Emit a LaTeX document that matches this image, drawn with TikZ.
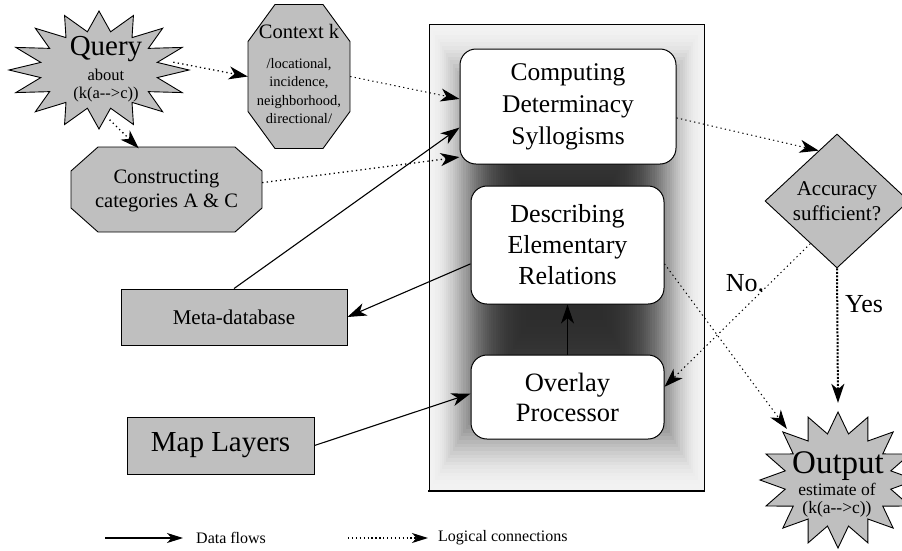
\documentclass[tikz,border=0pt]{standalone}
\usepackage{fontspec}
\setmainfont{Liberation Serif}
\usetikzlibrary{arrows.meta,shapes.geometric,calc}

\definecolor{graynode}{gray}{0.75}
\newcommand\fsz[2]{\fontsize{#1}{#2}\selectfont}

% spiky star: centre x, centre y, radius x, radius y, inner ratio, number of points
\newcommand\spikystar[6]{%
  \filldraw[grayshape] plot[samples=#6*2+1, domain=0:#6*2, variable=\k]
    ({#1+(mod(round(\k),2)==0 ? 1 : #5)*#3*cos(\k*180/#6)},
     {#2+(mod(round(\k),2)==0 ? 1 : #5)*#4*sin(\k*180/#6)}) -- cycle;}

% octagon with cut corners: centre x, centre y, half width, half height, cut x, cut y
\newcommand\cutoctagon[6]{%
  \filldraw[grayshape] ({#1-#3},{#2-#4+#6}) -- ({#1-#3+#5},{#2-#4}) -- ({#1+#3-#5},{#2-#4})
    -- ({#1+#3},{#2-#4+#6}) -- ({#1+#3},{#2+#4-#6}) -- ({#1+#3-#5},{#2+#4})
    -- ({#1-#3+#5},{#2+#4}) -- ({#1-#3},{#2+#4-#6}) -- cycle;}

\begin{document}
\begin{tikzpicture}[x=1pt,y=-1pt,
  grayshape/.style={draw=black, line width=0.9pt, fill=graynode},
  anchorbox/.style={draw=none, inner sep=0pt},
  procbox/.style={draw=black, line width=1pt, fill=white, rounded corners=16pt,
     align=center, inner sep=0pt, font=\fsz{26}{31}},
  rectbox/.style={grayshape, inner sep=0pt},
  bighead/.style={-{Stealth[length=19pt,width=13pt,inset=5.5pt]}},
  datafl/.style={line width=1.1pt, bighead},
  logic/.style={line width=1.3pt, dash pattern=on 1.3pt off 3.2pt, bighead},
  logicthin/.style={logic, line width=1pt},
  legendfl/.style={line width=1.1pt, -{Stealth[length=16pt,width=10pt,inset=4.5pt]}},
  legendlg/.style={line width=1.3pt, dash pattern=on 1.3pt off 2.6pt,
     -{Stealth[length=16pt,width=10pt,inset=4.5pt]}},
  lbl/.style={inner sep=0pt},
]
\useasboundingbox (0,0) rectangle (902,550);

% ---- shaded processing panel ----
\foreach \i in {0,...,63}{
  \pgfmathsetmacro\t{\i/64}
  \pgfmathsetmacro\bk{5+78*(1-exp(0-(\t/0.34)*(\t/0.34)))}
  \fill[black!\bk!white] ({429+137.5*\t},{24+233.5*\t}) rectangle ({704-137.5*\t},{491-233.5*\t});
}
\draw[line width=1pt] (429,24) -- (704,24) -- (704,491);
\draw[line width=1pt] (429,24) -- (429,491);
\draw[line width=1.6pt] (428.2,491) -- (704.8,491);

% ---- processing steps ----
\node[procbox, minimum width=216pt, minimum height=115pt, font=\fsz{25.5}{32}] (comp) at (568,106.5)
  {Computing\\Determinacy\\Syllogisms};
\node[procbox, minimum width=193pt, minimum height=118pt] (desc) at (567.5,245)
  {Describing\\Elementary\\Relations};
\node[procbox, minimum width=193pt, minimum height=84pt, font=\fsz{26.5}{30}] (ovl) at (567.5,397)
  {Overlay\\Processor};

% ---- query star ----
\spikystar{99}{70}{90}{59}{0.66}{16}
\node[anchorbox, ellipse, minimum width=150pt, minimum height=100pt] (q) at (99,70) {};
\node[lbl, anchor=base, font=\fsz{29}{29}] (qt1) at (106,55) {Query};
\node[lbl, anchor=base, font=\fsz{16.5}{16.5}] (qt2) at (106,80) {about};
\node[lbl, anchor=base, font=\fsz{16.5}{16.5}] (qt3) at (106,98) {(k(a-{}->c))};

% ---- context octagon ----
\cutoctagon{299}{76.5}{51}{72}{27}{37}
\node[anchorbox, minimum width=102pt, minimum height=144pt] (ctx) at (299,76.5) {};
\node[lbl, anchor=base, font=\fsz{20.5}{20.5}] (ct1) at (299,38) {Context k};
\node[lbl, anchor=base, font=\fsz{14.5}{14.5}] (ct2) at (299,68) {/locational,};
\node[lbl, anchor=base, font=\fsz{14.5}{14.5}] (ct3) at (299,86.5) {incidence,};
\node[lbl, anchor=base, font=\fsz{14.5}{14.5}] (ct4) at (299,105) {neighborhood,};
\node[lbl, anchor=base, font=\fsz{14.5}{14.5}] (ct5) at (299,123.5) {directional/};

% ---- categories octagon ----
\cutoctagon{166.5}{189.5}{95.5}{42.5}{27}{24}
\node[anchorbox, minimum width=191pt, minimum height=85pt, align=center, font=\fsz{20.5}{24}] (cc)
  at (166.5,191) {Constructing\\categories A \& C};

% ---- data sources ----
\node[rectbox, minimum width=226pt, minimum height=56pt, font=\fsz{21}{21}] (meta) at (234,317) {Meta-database};
\node[rectbox, minimum width=187pt, minimum height=57pt, font=\fsz{29}{29}] (map) at (220.5,445.5) {Map Layers};

% ---- decision ----
\node[diamond, grayshape, minimum width=144pt, minimum height=134pt, inner sep=0pt,
  align=center, font=\fsz{21}{25}] (dia) at (837,201) {Accuracy\\sufficient?};

% ---- output star ----
\spikystar{838}{480}{78}{68}{0.69}{16}
\node[anchorbox, ellipse, minimum width=136pt, minimum height=154pt] (out) at (838,480) {};
\node[lbl, anchor=base, font=\fsz{33}{33}] (ot1) at (838,473) {Output};
\node[lbl, anchor=base, font=\fsz{17.5}{17.5}] (ot2) at (837,495) {estimate of};
\node[lbl, anchor=base, font=\fsz{17.5}{17.5}] (ot3) at (837,513) {(k(a-{}->c))};

% ---- logical connections ----
\draw[logic] (q.6) -- (ctx.west);
\draw[logic] (q.-78) -- (cc.123);
\draw[logicthin] (ctx.east) -- (comp.176);
\draw[logic] (cc.5) -- (comp.205);
\draw[logicthin] (comp.-6) -- (dia.110);
\draw[logicthin] (dia.238) -- (ovl.6);
\draw[logicthin] (desc.-11) -- (out.135);
\draw[line width=2pt, dash pattern=on 2pt off 1.5pt, bighead] (dia.south) -- (out.north);

% ---- data flows ----
\draw[datafl] (meta.north) -- (comp.191);
\draw[datafl] (desc.191) -- (meta.east);
\draw[datafl] (map.east) -- (ovl.178);
\draw[datafl] (ovl.north) -- (desc.south);

% ---- branch labels ----
\node[lbl, font=\fsz{26}{26}] (no) at (745,283) {No.};
\node[lbl, font=\fsz{26}{26}] (yes) at (864,304) {Yes};

% ---- legend ----
\coordinate (lg1s) at (105,538);
\coordinate (lg1e) at (183,538);
\draw[legendfl] (lg1s) -- (lg1e);
\node[lbl, anchor=west, font=\fsz{16}{16}] (lg1t) at (196,538) {Data flows};
\coordinate (lg2s) at (348,538);
\coordinate (lg2e) at (428,538);
\draw[legendlg] (lg2s) -- (lg2e);
\node[lbl, anchor=west, font=\fsz{16}{16}] (lg2t) at (438,538) {Logical connections};
\end{tikzpicture}
\end{document}
